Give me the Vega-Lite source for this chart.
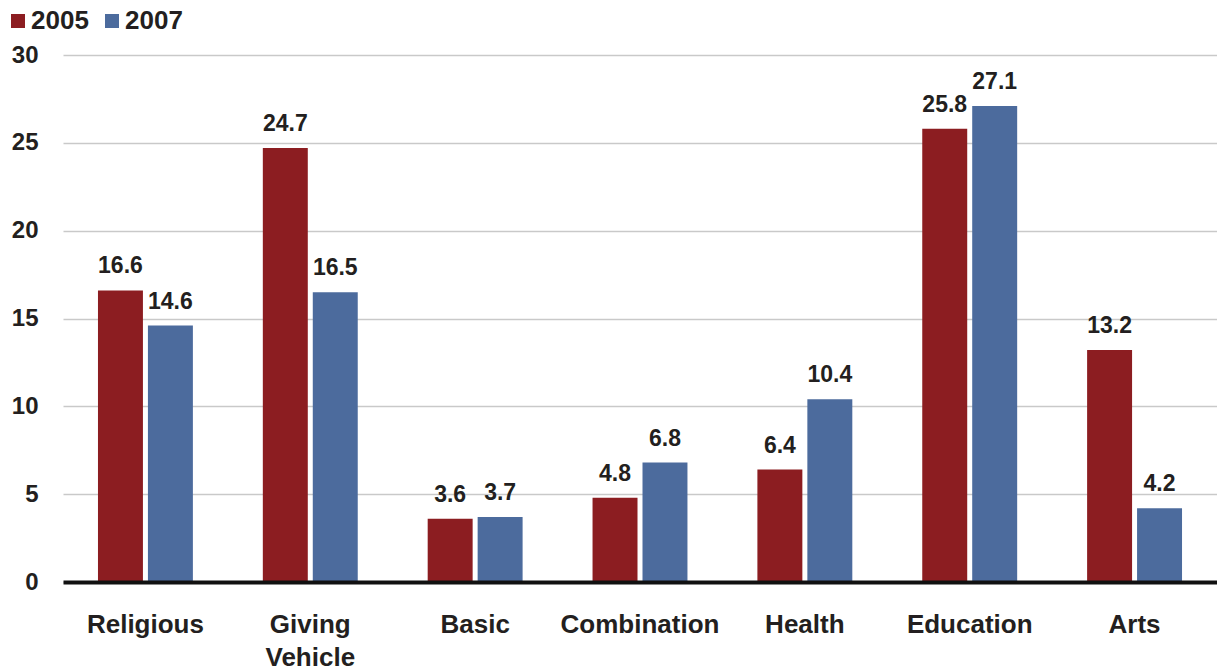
{
  "$schema": "https://vega.github.io/schema/vega-lite/v6.json",
  "width": 1154,
  "height": 527,
  "autosize": {"type": "none"},
  "padding": {"left": 63, "top": 55, "right": 0, "bottom": 84},
  "background": "white",
  "data": {
    "values": [
      {"category": "Religious", "year": "2005", "value": 16.6},
      {"category": "Religious", "year": "2007", "value": 14.6},
      {"category": "Giving Vehicle", "year": "2005", "value": 24.7},
      {"category": "Giving Vehicle", "year": "2007", "value": 16.5},
      {"category": "Basic", "year": "2005", "value": 3.6},
      {"category": "Basic", "year": "2007", "value": 3.7},
      {"category": "Combination", "year": "2005", "value": 4.8},
      {"category": "Combination", "year": "2007", "value": 6.8},
      {"category": "Health", "year": "2005", "value": 6.4},
      {"category": "Health", "year": "2007", "value": 10.4},
      {"category": "Education", "year": "2005", "value": 25.8},
      {"category": "Education", "year": "2007", "value": 27.1},
      {"category": "Arts", "year": "2005", "value": 13.2},
      {"category": "Arts", "year": "2007", "value": 4.2}
    ]
  },
  "encoding": {
    "x": {
      "field": "category",
      "type": "nominal",
      "sort": null,
      "scale": {"paddingInner": 0, "paddingOuter": 0},
      "axis": {
        "title": null,
        "labelAngle": 0,
        "ticks": false,
        "tickSize": 0,
        "grid": false,
        "domainColor": "#111111",
        "domainWidth": 4,
        "labelPadding": 29,
        "labelFont": "Liberation Sans",
        "labelFontSize": 26,
        "labelFontWeight": "bold",
        "labelColor": "#231F20",
        "labelBaseline": "top",
        "labelLineHeight": 33,
        "labelOverlap": false,
        "labelLimit": 400,
        "labelExpr": "split(datum.label, ' ')",
        "zindex": 1
      }
    },
    "xOffset": {
      "field": "year",
      "type": "nominal",
      "scale": {"paddingInner": 0.1, "paddingOuter": 0.7}
    },
    "y": {
      "field": "value",
      "type": "quantitative",
      "scale": {"domain": [0, 30], "nice": false},
      "axis": {
        "title": null,
        "values": [0, 5, 10, 15, 20, 25, 30],
        "domain": false,
        "ticks": false,
        "tickSize": 0,
        "grid": true,
        "gridColor": "#C9C9C9",
        "gridWidth": 1.5,
        "labelPadding": 25,
        "labelFont": "Liberation Sans",
        "labelFontSize": 24,
        "labelFontWeight": "bold",
        "labelColor": "#231F20"
      }
    }
  },
  "layer": [
    {
      "mark": {"type": "bar"},
      "encoding": {
        "color": {
          "field": "year",
          "type": "nominal",
          "scale": {"domain": ["2005", "2007"], "range": ["#8C1D21", "#4C6B9D"]},
          "legend": {
            "title": null,
            "orient": "none",
            "legendX": -58,
            "legendY": -47,
            "direction": "horizontal",
            "symbolType": "square",
            "symbolSize": 196,
            "symbolStrokeWidth": 0,
            "labelFont": "Liberation Sans",
            "labelFontSize": 26,
            "labelFontWeight": "bold",
            "labelColor": "#231F20",
            "labelOffset": 0,
            "columnPadding": 10,
            "padding": 0
          }
        }
      }
    },
    {
      "mark": {
        "type": "text",
        "baseline": "alphabetic",
        "dy": -17,
        "font": "Liberation Sans",
        "fontSize": 23,
        "fontWeight": "bold",
        "color": "#231F20"
      },
      "encoding": {
        "text": {"field": "value", "type": "quantitative", "format": ".1f"}
      }
    }
  ],
  "config": {"view": {"stroke": null}}
}
